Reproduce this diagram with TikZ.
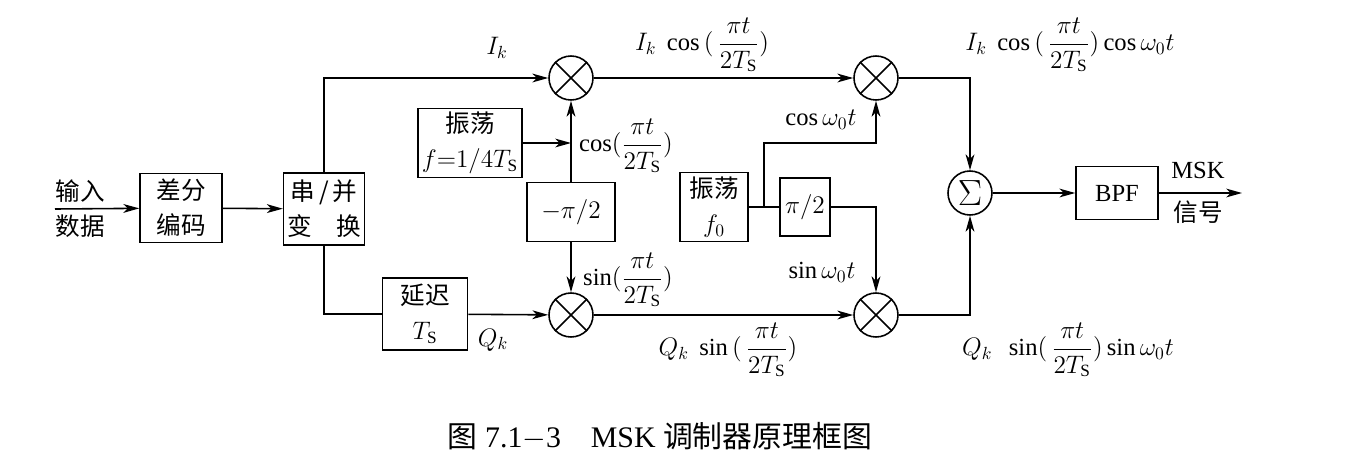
\documentclass[tikz,border=0pt]{standalone}
\usepackage{fontspec}
\usepackage{amsmath}
\setmainfont{Liberation Serif}
\newfontfamily\cjk{Noto Sans CJK SC}
\usetikzlibrary{arrows.meta}

\begin{document}
\begin{tikzpicture}[x=0.02cm, y=-0.02cm, line width=0.9pt,
        >={Stealth[length=9pt,width=5pt,inset=2.5pt]},
        every node/.style = {font=\fontsize{14}{20}\selectfont, inner sep=1pt},
        blk/.style = {draw, align=center, inner sep=2pt},
        mult/.style = {draw, circle, minimum size=0.88cm, inner sep=0pt}]
    \useasboundingbox (0,0) rectangle (1353,474);

    \node[blk, minimum width=1.64cm, minimum height=1.38cm] (diff) at (181,208) {\cjk 差分\\\cjk 编码};
    \node[blk, minimum width=1.54cm, minimum height=1.44cm] (sp) at (324,209) {\cjk 串\,/\,并\\\cjk 变\quad 换};
    \node[blk, minimum width=2.08cm, minimum height=1.38cm] (osc1) at (470,143) {\cjk 振荡\\$f{=}1/4T_{\mathrm S}$};
    \node[blk, minimum width=1.76cm, minimum height=1.18cm] (neg) at (571,212) {$-\pi/2$};
    \node[blk, minimum width=1.70cm, minimum height=1.44cm] (delay) at (425,314) {\cjk 延迟\\$T_{\mathrm S}$};
    \node[blk, minimum width=1.36cm, minimum height=1.38cm] (osc2) at (714,207) {\cjk 振荡\\$f_0$};
    \node[blk, minimum width=1.00cm, minimum height=1.16cm] (shift) at (805,207) {$\pi/2$};
    \node[blk, minimum width=1.64cm, minimum height=1.06cm] (bpf) at (1117,193) {BPF};

    \node[mult] (m1) at (571,78) {};
    \node[mult] (m2) at (571,315) {};
    \node[mult] (m3) at (876,78) {};
    \node[mult] (m4) at (876,315) {};
    \node[mult] (sum) at (970,193) {\fontsize{22}{22}\selectfont$\Sigma$};
    \foreach \m in {m1,m2,m3,m4}
        \draw (\m.45) -- (\m.225) (\m.135) -- (\m.315);

    \coordinate (in) at (55,209);
    \coordinate (br) at (764,207);
    \coordinate (out) at (1242,193);

    \draw[->] (in) -- (diff);
    \draw[->] (diff) -- (sp);
    \draw[->] (sp.north) |- (m1);
    \draw (sp.south) |- (delay);
    \draw[->] (delay) -- (m2);
    \draw[->] (osc1) -- (osc1 -| m1);
    \draw[->] (neg) -- (m1);
    \draw[->] (neg) -- (m2);
    \draw[->] (m1) -- (m3);
    \draw[->] (m2) -- (m4);
    \draw (osc2) -- (shift);
    \draw[->] (br) -- ++(0,-64) -| (m3);
    \draw[->] (shift) -| (m4);
    \draw[->] (m3) -| (sum);
    \draw[->] (m4) -| (sum);
    \draw[->] (sum) -- (bpf);
    \draw[->] (bpf) -- (out);

    \node (inA) at (80,191) {\cjk 输入};
    \node (inB) at (80,226) {\cjk 数据};
    \node (lIk) at (497,48) {$I_k$};
    \node (lQk) at (493,340) {$Q_k$};
    \node (lcos1) at (626,146) {$\cos(\dfrac{\pi t}{2T_{\mathrm S}})$};
    \node (lsin1) at (628,280) {$\sin(\dfrac{\pi t}{2T_{\mathrm S}})$};
    \node (lIcos) at (702,45) {$I_k\ \cos\,(\,\dfrac{\pi t}{2T_{\mathrm S}})$};
    \node (lQsin) at (728,350) {$Q_k\ \sin\,(\,\dfrac{\pi t}{2T_{\mathrm S}})$};
    \node (lcos0) at (821,120) {$\cos\omega_0 t$};
    \node (lsin0) at (822,272) {$\sin\omega_0 t$};
    \node (lItop) at (1070,45) {$I_k\ \cos\,(\,\dfrac{\pi t}{2T_{\mathrm S}})\cos\omega_0 t$};
    \node (lQbot) at (1068,350) {$Q_k\ \ \sin(\,\dfrac{\pi t}{2T_{\mathrm S}})\sin\omega_0 t$};
    \node (msk) at (1198,170) {MSK};
    \node (sig) at (1198,212) {\cjk 信号};
    \node[font=\fontsize{17}{20}\selectfont] (cap) at (660,436) {{\cjk 图} 7.1$-$3\quad MSK {\cjk 调制器原理框图}};
\end{tikzpicture}
\end{document}
